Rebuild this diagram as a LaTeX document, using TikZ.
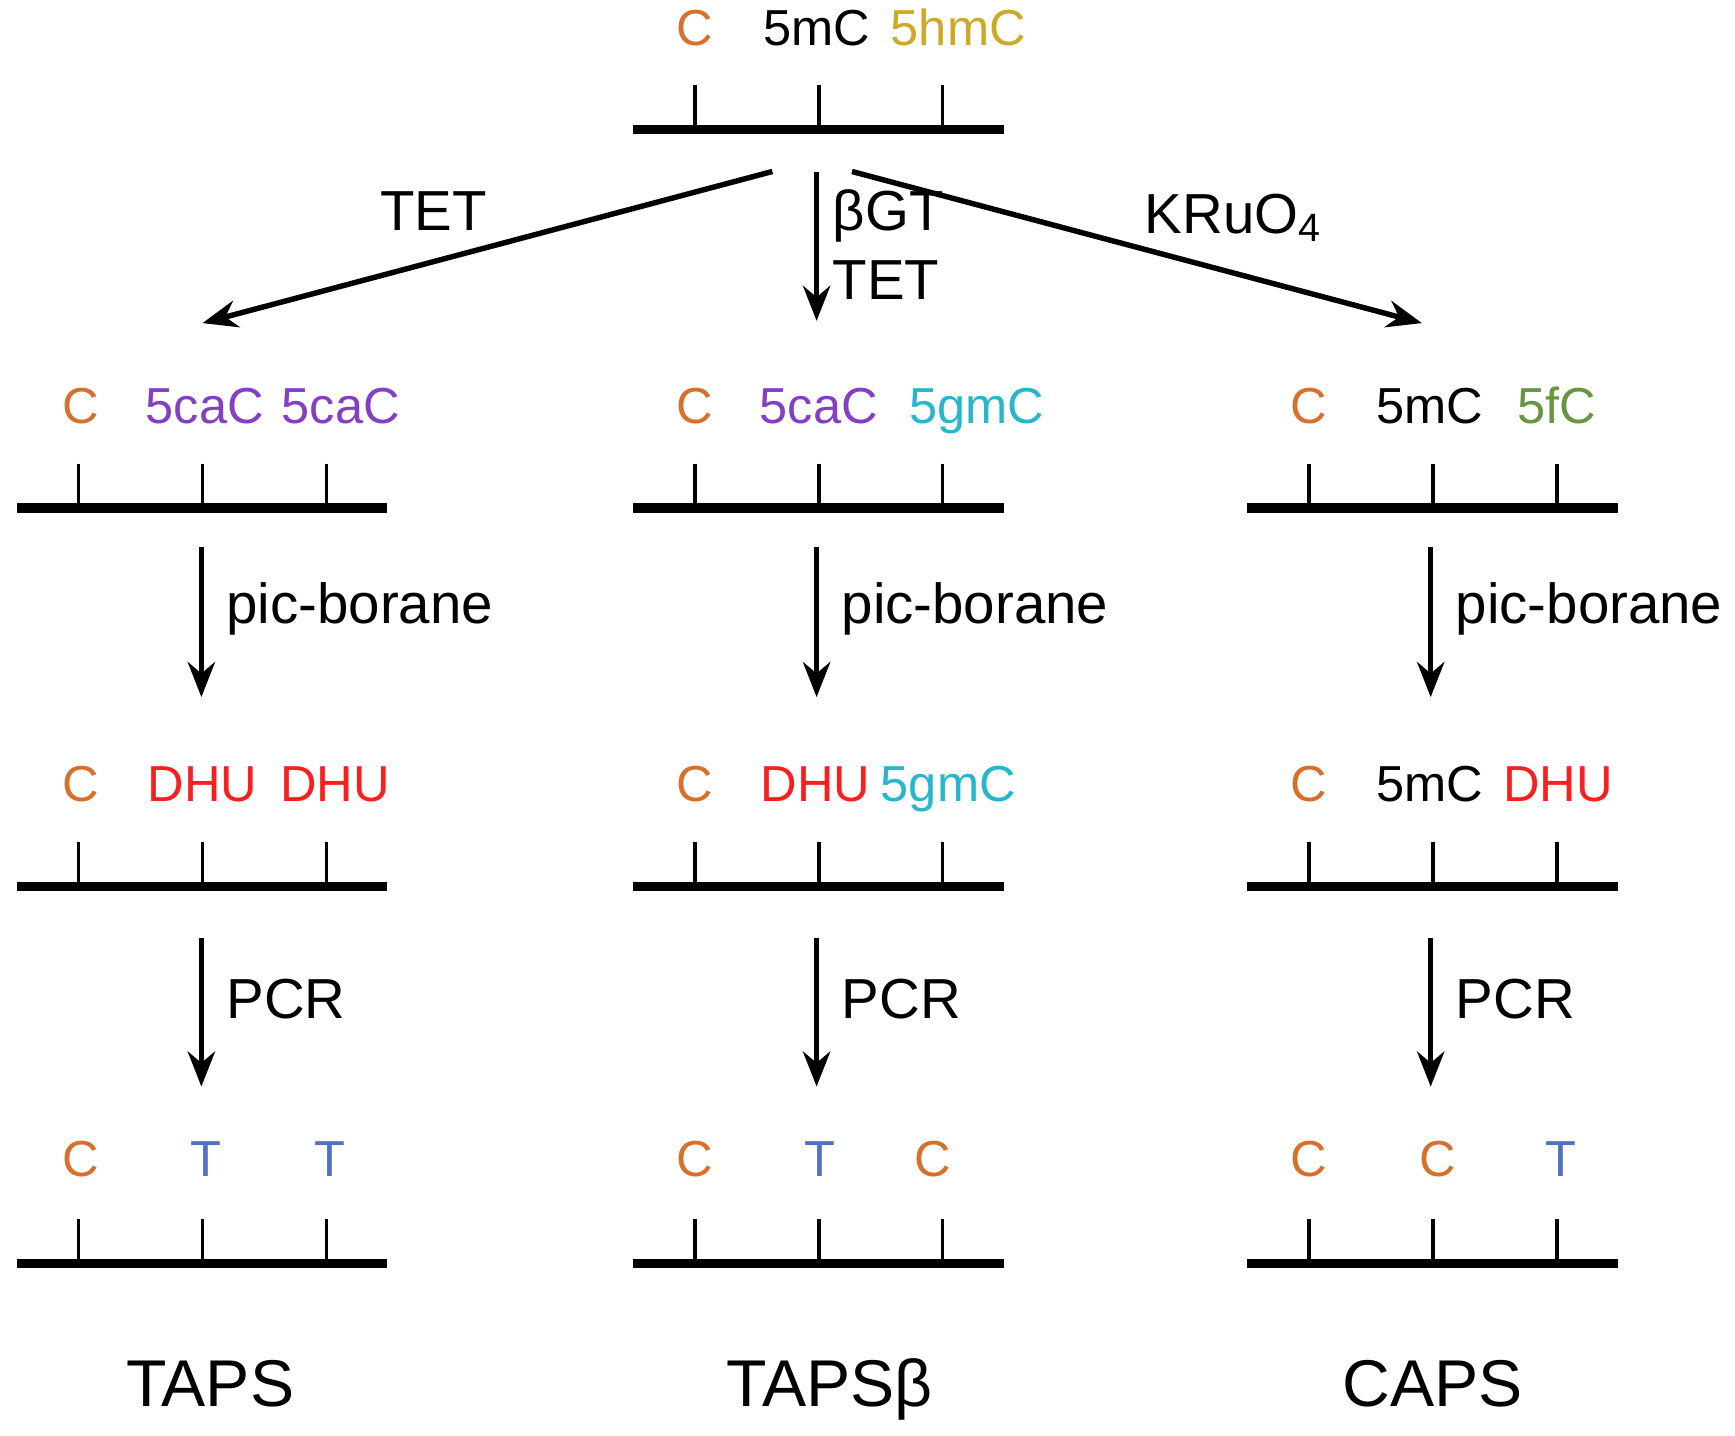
\documentclass[tikz,border=0pt]{standalone}
\usepackage{fontspec}
\setmainfont{Liberation Sans}
\usetikzlibrary{arrows.meta}

\definecolor{cyt}{RGB}{214,112,44}
\definecolor{hmc}{RGB}{204,170,40}
\definecolor{cac}{RGB}{132,64,196}
\definecolor{gmc}{RGB}{40,182,204}
\definecolor{fcc}{RGB}{104,150,64}
\definecolor{dhu}{RGB}{250,30,30}
\definecolor{thy}{RGB}{80,112,196}

\tikzset{
  base/.style={font=\fontsize{13}{15}\selectfont, inner sep=0pt, text height=1.6ex, text depth=0.45ex},
  strand/.style={line width=2.4pt},
  tick/.style={line width=0.9pt},
  reaction/.style={-{Stealth[length=9pt,width=7pt]}, line width=1.4pt},
  reagent/.style={font=\fontsize{14.5}{17}\selectfont, inner sep=0pt, text height=1.6ex, text depth=0.45ex},
  method/.style={font=\fontsize{17}{20}\selectfont, inner sep=0pt, text height=1.6ex, text depth=0.45ex}
}

\begin{document}
\begin{tikzpicture}[x=0.01cm, y=-0.01cm]
    \useasboundingbox (0,0) rectangle (1568,1297);

    % Strands with ticks
    \foreach \cx/\ly in {740/117,
                         183/459, 740/459, 1295/459,
                         183/801, 740/801, 1295/801,
                         183/1142, 740/1142, 1295/1142} {
      \draw [strand] (\cx-168,\ly) -- (\cx+167,\ly);
      \foreach \dx in {-112,0,112}
        \draw [tick] (\cx+\dx,\ly-40) -- (\cx+\dx,\ly);
    }

    % Labels, top strand
    \node [base, cyt]   (t1) at (628,30) {C};
    \node [base]        (t2) at (738,30) {5mC};
    \node [base, hmc]   (t3) at (866,30) {5hmC};

    % Labels, row 2
    \node [base, cyt]   (a21) at (73,372)  {C};
    \node [base, cac]   (a22) at (185,372) {5caC};
    \node [base, cac]   (a23) at (308,372) {5caC};
    \node [base, cyt]   (b21) at (628,372) {C};
    \node [base, cac]   (b22) at (740,372) {5caC};
    \node [base, gmc]   (b23) at (883,372) {5gmC};
    \node [base, cyt]   (c21) at (1183,372) {C};
    \node [base]        (c22) at (1292,372) {5mC};
    \node [base, fcc]   (c23) at (1407,372) {5fC};

    % Labels, row 3
    \node [base, cyt]   (a31) at (73,714)  {C};
    \node [base, dhu]   (a32) at (183,714) {DHU};
    \node [base, dhu]   (a33) at (303,714) {DHU};
    \node [base, cyt]   (b31) at (628,714) {C};
    \node [base, dhu]   (b32) at (737,714) {DHU};
    \node [base, gmc]   (b33) at (857,714) {5gmC};
    \node [base, cyt]   (c31) at (1183,714) {C};
    \node [base]        (c32) at (1292,714) {5mC};
    \node [base, dhu]   (c33) at (1408,714) {DHU};

    % Labels, row 4
    \node [base, cyt]   (a41) at (73,1053)  {C};
    \node [base, thy]   (a42) at (186,1053) {T};
    \node [base, thy]   (a43) at (298,1053) {T};
    \node [base, cyt]   (b41) at (628,1053) {C};
    \node [base, thy]   (b42) at (741,1053) {T};
    \node [base, cyt]   (b43) at (843,1053) {C};
    \node [base, cyt]   (c41) at (1183,1053) {C};
    \node [base, cyt]   (c42) at (1299,1053) {C};
    \node [base, thy]   (c43) at (1411,1053) {T};

    % Method names
    \node [method] (taps)  at (190,1260)  {TAPS};
    \node [method] (tapsb) at (750,1260)  {TAPSβ};
    \node [method] (caps)  at (1295,1260) {CAPS};

    % Arrow ends
    \coordinate (o1) at (698,155);
    \coordinate (o2) at (738,155);
    \coordinate (o3) at (770,155);
    \coordinate (e1) at (183,292);
    \coordinate (e2) at (738,290);
    \coordinate (e3) at (1285,292);
    \foreach \cx/\col in {182/a, 738/b, 1293/c} {
      \coordinate (\col p1) at (\cx,494);
      \coordinate (\col p2) at (\cx,630);
      \coordinate (\col q1) at (\cx,848);
      \coordinate (\col q2) at (\cx,982);
    }

    % Paths
    \draw [reaction] (o1) -- (e1);
    \draw [reaction] (o2) -- (e2);
    \draw [reaction] (o3) -- (e3);
    \node [reagent] (tet)  at (392,198)  {TET};
    \node [reagent, anchor=west] (bgt)  at (752,198) {βGT};
    \node [reagent, anchor=west] (tet2) at (752,260) {TET};
    \node [reagent] (kru)  at (1115,200) {KRuO\textsubscript{4}};

    \foreach \col/\cx in {a/182, b/738, c/1293} {
      \draw [reaction] (\col p1) -- (\col p2);
      \draw [reaction] (\col q1) -- (\col q2);
      \node [reagent, anchor=west] at (\cx+22,553) {pic-borane};
      \node [reagent, anchor=west] at (\cx+22,910) {PCR};
    }
\end{tikzpicture}
\end{document}
